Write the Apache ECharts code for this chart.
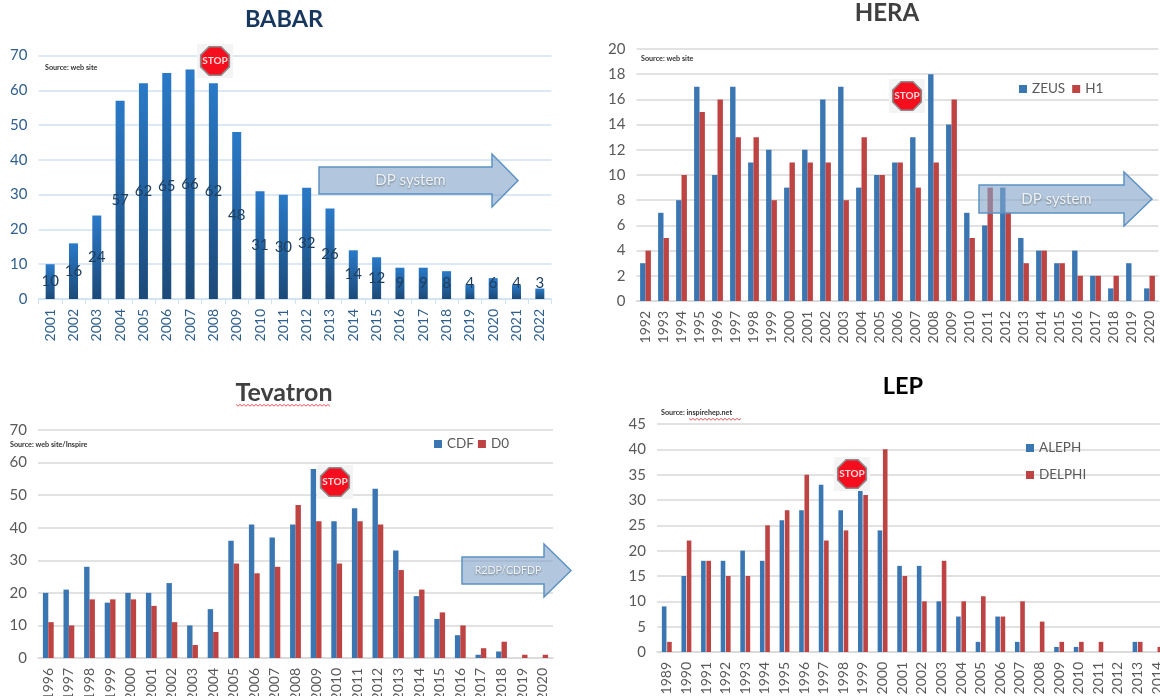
<!DOCTYPE html>
<html><head><meta charset="utf-8">
<style>html,body{margin:0;padding:0;background:#fff;overflow:hidden}#c{width:1160px;height:696px;filter:blur(0.55px)}</style>
<script src="https://cdn.jsdelivr.net/npm/echarts@6/dist/echarts.min.js"></script>
</head><body><div id="c"></div>
<script>
const babarYears=[2001,2002,2003,2004,2005,2006,2007,2008,2009,2010,2011,2012,2013,2014,2015,2016,2017,2018,2019,2020,2021,2022].map(String);
const babarValues=[10,16,24,57,62,65,66,62,48,31,30,32,26,14,12,9,9,8,4,6,4,3];
const heraYears=[1992,1993,1994,1995,1996,1997,1998,1999,2000,2001,2002,2003,2004,2005,2006,2007,2008,2009,2010,2011,2012,2013,2014,2015,2016,2017,2018,2019,2020].map(String);
const zeusValues=[3,7,8,17,10,17,11,12,9,12,16,17,9,10,11,13,18,14,7,6,9,5,4,3,4,2,1,3,1];
const h1Values=[4,5,10,15,16,13,13,8,11,11,11,8,13,10,11,9,11,16,5,9,7,3,4,3,2,2,2,0,2];
const tevYears=[1996,1997,1998,1999,2000,2001,2002,2003,2004,2005,2006,2007,2008,2009,2010,2011,2012,2013,2014,2015,2016,2017,2018,2019,2020].map(String);
const cdfValues=[20,21,28,17,20,20,23,10,15,36,41,37,41,58,42,46,52,33,19,12,7,1,2,0,0];
const d0Values=[11,10,18,18,18,16,11,4,8,29,26,28,47,42,29,42,41,27,21,14,10,3,5,1,1];
const lepYears=[1989,1990,1991,1992,1993,1994,1995,1996,1997,1998,1999,2000,2001,2002,2003,2004,2005,2006,2007,2008,2009,2010,2011,2012,2013,2014].map(String);
const alephValues=[9,15,18,18,20,18,26,28,33,28,32,24,17,17,10,7,2,7,2,0,1,1,0,0,2,0];
const delphiValues=[2,22,18,15,15,25,28,35,22,24,31,40,15,10,18,10,11,7,10,6,2,2,2,0,2,1];

const FONT='Lato, "Noto Sans", sans-serif';
const BLUE='#3a76b2', RED='#be4343', GREY='#595959';
const panels=[
 {years:babarYears,max:70,interval:10,left:38.5,width:513,top:55.5,bottom:299,line:'#cfe2f3',text:'#2f5f8e'},
 {years:heraYears,max:20,interval:2,left:636.5,width:522,top:49,bottom:301,line:'#d9d9d9',text:GREY},
 {years:tevYears,max:70,interval:10,left:38,width:515,top:430,bottom:658,line:'#d9d9d9',text:GREY},
 {years:lepYears,max:45,interval:5,left:657,width:510,top:424,bottom:652,line:'#d9d9d9',text:GREY}
];
const grid=panels.map(p=>({left:p.left,width:p.width,top:p.top,height:p.bottom-p.top,containLabel:false,outerBoundsMode:'none'}));
const xAxis=panels.map((p,i)=>({type:'category',gridIndex:i,data:p.years,
  axisLine:{lineStyle:{color:p.line,width:1.5}},axisTick:{show:i===0,alignWithLabel:false,lineStyle:{color:p.line}},
  axisLabel:{rotate:90,interval:0,color:p.text,fontFamily:FONT,fontSize:14,margin:10}}));
const yAxis=panels.map((p,i)=>({type:'value',gridIndex:i,min:0,max:p.max,interval:p.interval,
  axisLine:{show:false},axisTick:{show:false},splitLine:{lineStyle:{color:p.line,width:1.5}},
  axisLabel:{color:p.text,fontFamily:FONT,fontSize:15,margin:11}}));

const babarBars=babarValues.map(v=>({value:v,label:v<=9?{position:'insideBottom',distance:8}:{}}));
function pair(name1,d1,name2,d2,idx,w,gap){
  return [{name:name1,d:d1,c:BLUE},{name:name2,d:d2,c:RED}].map(s=>({type:'bar',name:s.name,xAxisIndex:idx,yAxisIndex:idx,data:s.d,
    barWidth:w,barGap:gap,itemStyle:{color:s.c},animation:false}));
}
const series=[
 {type:'bar',name:'BABAR',xAxisIndex:0,yAxisIndex:0,data:babarBars,barWidth:9,animation:false,
  itemStyle:{color:{type:'linear',x:0,y:0,x2:0,y2:1,colorStops:[{offset:0,color:'#2a7ac8'},{offset:1,color:'#1c4a78'}]}},
  label:{show:true,position:'inside',color:'#1f3f60',fontFamily:FONT,fontSize:15}},
 ...pair('ZEUS',zeusValues,'H1',h1Values,1,5.4,'0%'),
 ...pair('CDF',cdfValues,'D0',d0Values,2,5.4,'0%'),
 ...pair('ALEPH',alephValues,'DELPHI',delphiValues,3,4.6,'15%')
];
const legendBase={icon:'rect',itemWidth:8,itemHeight:8,textStyle:{color:GREY,fontFamily:FONT,fontSize:13.5},selectedMode:false};
const legend=[
 {...legendBase,data:['ZEUS','H1'],left:1014,top:77,itemGap:7,orient:'horizontal'},
 {...legendBase,data:['CDF','D0'],left:429,top:432,itemGap:4,orient:'horizontal'},
 {...legendBase,data:['ALEPH','DELPHI'],left:1021,top:436,itemGap:13,orient:'vertical'}
];

const graphic=[];
function title(t,cx,y,color,size){graphic.push({type:'text',z:100,style:{text:t,x:cx,y:y,align:'center',verticalAlign:'middle',fill:color,font:'bold '+(size||25)+'px '+FONT}});}
function source(t,x,y){graphic.push({type:'text',z:100,style:{text:t,x:x,y:y,verticalAlign:'middle',fill:'#333',font:'bold 7.2px '+FONT}});}
function wavy(x0,x1,y){const pts=[];let k=0;for(let x=x0;x<=x1;x+=2,k++)pts.push([x,y+(k%2?1.2:-0.6)]);
  graphic.push({type:'polyline',z:100,shape:{points:pts},style:{stroke:'#e24a4a',lineWidth:0.9,fill:null}});}
function arrow(l,base,tip,bt,bb,ht,hb,label,fs){const cy=(ht+hb)/2;
  graphic.push({type:'polygon',z:90,shape:{points:[[l,bt],[base,bt],[base,ht],[tip,cy],[base,hb],[base,bb],[l,bb]]},
    style:{fill:'rgba(130,165,200,0.62)',stroke:'#5d92c4',lineWidth:1.5}});
  graphic.push({type:'text',z:91,style:{text:label,x:(l+base)/2+5,y:(bt+bb)/2,align:'center',verticalAlign:'middle',fill:'#eef3f8',font:(fs||15)+'px '+FONT,
    textShadowColor:'rgba(60,60,60,0.6)',textShadowBlur:2,textShadowOffsetY:1}});}
function stop(cx,cy){const r=15.5,pts=[];for(let i=0;i<8;i++){const a=Math.PI/8+i*Math.PI/4;pts.push([cx+r*Math.cos(a),cy+r*Math.sin(a)]);}
  graphic.push({type:'rect',z:92,shape:{x:cx-18,y:cy-17,width:36,height:34},style:{fill:'#f4f4f4'}});
  graphic.push({type:'polygon',z:93,shape:{points:pts},style:{fill:'#f50f1e',stroke:'#8c8c8c',lineWidth:1.6}});
  graphic.push({type:'text',z:94,style:{text:'STOP',x:cx,y:cy,align:'center',verticalAlign:'middle',fill:'#ffd9d9',font:'bold 10px '+FONT}});}

title('BABAR',284,19,'#17375e',23.5);
title('HERA',887,13,'#404040',24);
title('Tevatron',284,393,'#404040',25);
title('LEP',903,386,'#000',23.5);
wavy(236,331,405);
source('Source: web site',45,68);
source('Source: web site',641,59);
source('Source: web site/Inspire',10,445);
source('Source: inspirehep.net',661,413);
wavy(689,742,419);
arrow(319,492,518,167,194,154,207,'DP system',15);
arrow(979,1124,1152,185,213,172,226,'DP system',15);
arrow(462,544,571,557,584,544,597,'R2DP/CDFDP',10.5);
stop(215,61);stop(907,96);stop(335,482);stop(852,474);

const chart=echarts.init(document.getElementById('c'),null,{width:1160,height:696});
chart.setOption({animation:false,grid,xAxis,yAxis,series,legend,graphic});
</script></body></html>
